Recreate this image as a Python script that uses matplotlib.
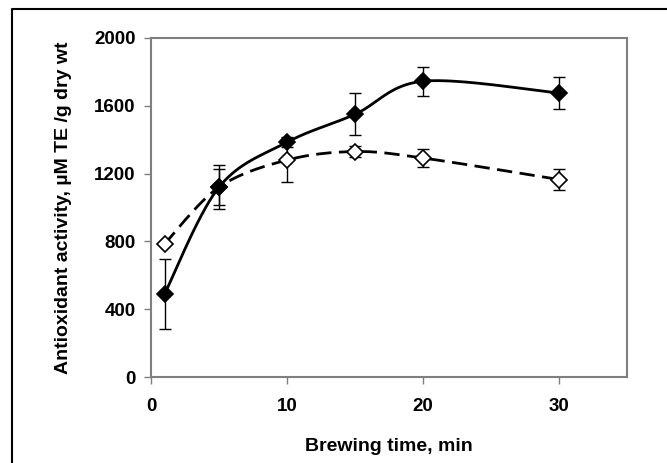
import numpy as np
import matplotlib
matplotlib.use("Agg")
import matplotlib.pyplot as plt
from matplotlib.lines import Line2D

plt.rcParams['font.family'] = ['Liberation Sans', 'DejaVu Sans']
plt.rcParams['font.weight'] = 'bold'

# brewing time (min) and antioxidant activity (uM TE / g dry wt)
tiempo = [1, 5, 10, 15, 20, 30]
lleno = [490, 1120, 1385, 1550, 1745, 1675]
lleno_err = [205, 130, 30, 125, 85, 95]
vacio = [785, 1120, 1280, 1330, 1292, 1165]
vacio_err = [0, 105, 130, 32, 55, 60]

xticks = [0, 10, 20, 30]
yticks = [0, 400, 800, 1200, 1600, 2000]


def suavizar(ax, xs, ys, n=40, t=1/6.):
    # curva bezier tipo "smoothed line" calculada en pixeles
    P = ax.transData.transform(np.column_stack([xs, ys]))
    pts = []
    for i in range(len(P) - 1):
        p0 = P[i - 1] if i > 0 else P[i]
        p1 = P[i]
        p2 = P[i + 1]
        p3 = P[i + 2] if i + 2 < len(P) else P[i + 1]
        c1 = p1 + (p2 - p0) * t
        c2 = p2 - (p3 - p1) * t
        u = np.linspace(0, 1, n)[:, None]
        seg = ((1 - u) ** 3 * p1 + 3 * (1 - u) ** 2 * u * c1
               + 3 * (1 - u) * u ** 2 * c2 + u ** 3 * p2)
        pts.append(seg if i == 0 else seg[1:])
    pts = np.vstack(pts)
    return ax.transData.inverted().transform(pts)


fig = plt.figure(figsize=(6.67, 4.63), dpi=100)
ax = fig.add_axes([151/667, 86/463, 476/667, 339/463])
ax.set_xlim(0, 35)
ax.set_ylim(0, 2000)

c = suavizar(ax, tiempo, vacio)
ax.plot(c[:, 0], c[:, 1], color='black', lw=2, dashes=(5.5, 2.7), zorder=2)
c = suavizar(ax, tiempo, lleno)
ax.plot(c[:, 0], c[:, 1], color='black', lw=2, zorder=2)

ax.errorbar(tiempo, vacio, yerr=vacio_err, fmt='none', ecolor='black',
            elinewidth=1, capsize=4, capthick=1, zorder=3)
ax.errorbar(tiempo, lleno, yerr=lleno_err, fmt='none', ecolor='black',
            elinewidth=1, capsize=4, capthick=1, zorder=3)
ax.plot(tiempo, vacio, 'D', ms=8.5, mfc='white', mec='black', mew=1.2,
        ls='none', zorder=4)
ax.plot(tiempo, lleno, 'D', ms=8.5, mfc='black', mec='black', mew=1.2,
        ls='none', zorder=5)

ax.set_xticks(xticks)
ax.set_yticks(yticks)
ax.tick_params(direction='out', length=5, width=1, color='#7f7f7f',
               labelsize=13.5)
ax.tick_params(axis='x', pad=10)
ax.tick_params(axis='y', pad=6)
for s in ax.spines.values():
    s.set_color('#7f7f7f')
    s.set_linewidth(1.5)

ax.set_xlabel("Brewing time, min", fontsize=14, fontweight='bold')
ax.set_ylabel("Antioxidant activity, \u00b5M TE /g dry wt", fontsize=14,
              fontweight='bold')
ax.xaxis.set_label_coords(0.5, -0.18)
ax.yaxis.set_label_coords(-0.166, 0.5)

# marco exterior
x0 = 12 / 667
y0 = 1 - 9 / 463
fig.add_artist(Line2D([x0, x0, 1], [0, y0, y0], transform=fig.transFigure,
                      color='black', lw=1.5))

fig.savefig("out.png", dpi=100)
